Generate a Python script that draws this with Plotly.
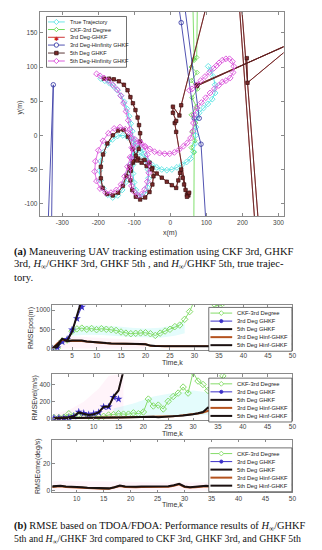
import plotly.graph_objects as go

W, H = 322, 550

# ---------------- (a) trajectory data: x(m), y(m) ----------------
true_x = [-193,-182,-170,-158,-147,-137,-128,-121,-115,-110,-106,-103,
          -102,-103,-104,-104,-101,-96,-88,-79,-70,-64,-61,-62,-66,-73,-82,-93,
          -105,-118,-132,-147,-161,-175,-186,-194,-197,-194,-186,-174,-160,-146,-134,-125,-118,-112,-106,-98,
          -88,-76,-64,-51,-38,-24,-10,4,18,32,45,56,64,68,70,71,72,80,92,104,116,124,124,119,112,105]
true_y = [83,80,77,72,66,58,49,39,28,17,6,-5,
          -17,-30,-43,-56,-69,-80,-88,-90,-86,-76,-63,-50,-38,-27,-19,-13,
          -8,-3,0,-1,-6,-14,-25,-38,-52,-66,-78,-87,-91,-88,-80,-69,-56,-43,-32,-24,
          -25,-31,-37,-43,-47,-50,-51,-50,-47,-43,-39,-34,-24,-12,0,12,24,33,40,46,53,62,74,86,95,101]

ckf_x = [75,73,66,62,None,66,58,74,58,76,60,72,58,70,60,68,58,66,65]
ckf_y = [200,114,110,200,None,112,100,92,80,68,55,42,30,18,5,-8,-18,-25,-140]

hinf3_x = [-340,-325,-330,None,20,30,66,85,100,None,37,80]
hinf3_y = [-140,74,-140,None,200,165,25,-13,-140,None,200,25]

g5_x = [-184,-170,-157,-143,-129,-119,-111,-104,-97,-91,-87,-84,-84,
        -88,-96,-104,-110,-111,-106,-96,-84,-70,-58,-50,-47,-50,-58,-72,-90,
        -105,-118,-130,-145,-160,-175,-187,-193,-193,-188,-176,-160,-145,-132,-122,-114,-104,-92,
        -80,-66,-52,-38,-24,-10,4,16,22,27,30,34,38,42,46,50,52,46,
        16,12,16,7,7,25,30,
        105,190,236,246,196,400,360,75,73,360,214,212]
g5_y = [83,83,82,79,74,66,56,47,37,26,15,3,-9,
        -20,-30,-40,-52,-66,-80,-90,-94,-91,-83,-72,-60,-48,-40,-36,-34,
        -20,-2,8,7,0,-12,-28,-46,-63,-77,-86,-88,-84,-74,-60,-46,-38,-37,
        -40,-45,-50,-56,-62,-68,-73,-77,-66,-55,-50,-62,-72,-80,-87,-88,-84,-90,
        5,18,21,33,42,29,44,
        200,200,-140,-140,200,200,140,74,72,141,77,113]
g3_x = g5_x
g3_y = g5_y

h5_x = [-205,-195,-184,-172,-160,-148,-138,-130,-123,-117,-112,-108,
        -107,-109,-112,-112,-108,-100,-90,-80,-71,-64,-60,-60,-64,-72,-84,-98,
        -112,-125,-140,-156,-172,-187,-200,-208,-210,-205,-195,-180,-165,-150,-137,-127,-119,-112,-104,-95,
        -82,-70,-57,-44,-30,-16,-2,11,24,36,47,56,62,64,66,74,86,98,110,122,134,144,
        154,166,174,176,172,164,154,144,135,128,120,108,96,84,72,60,53]
h5_y = [90,87,84,80,74,67,58,47,35,22,9,-4,
        -18,-33,-48,-62,-74,-83,-88,-86,-79,-68,-55,-41,-28,-17,-10,-6,
        2,9,12,10,3,-8,-22,-38,-53,-67,-78,-84,-84,-80,-72,-60,-46,-32,-20,-12,
        -12,-16,-20,-24,-26,-27,-27,-25,-21,-16,-11,-4,6,18,30,40,48,55,62,68,73,78,
        80,84,92,101,108,112,112,110,106,102,98,92,86,80,74,68,66]

traj_xticks = [-300,-200,-100,0,100,200,300]
traj_yticks = [-100,-50,0,50,100,150]

# ---------------- (b) RMSE data ----------------
k_pos = list(range(1, 51))
ckf_pos = [0,10,200,220,450,510,530,500,520,490,515,500,490,470,430,400,385,395,405,410,
           385,340,400,455,500,570,610,760,960,1250,1400,1350,1250,1160,1100,1200,1300,1350,1400,1450,
           1500,1500,1550,1550,1600,1600,1650,1650,1700,1700]
g3_pos_k = [1,2,3,4,5,6,7,8]
g3_pos = [0,20,170,240,490,780,1080,1400]
g5_pos_k = [1,2,3,4,5,6,7,8]
g5_pos = [0,40,250,200,430,850,1250,1700]
h3_pos = [0,130,230,190,200,200,195,180,165,155,145,135,128,122,118,116,115,114,112,108,
          72,62,60,58,57,56,56,56,57,58,60,62,66,72,80,90,105,120,140,160,
          180,200,220,240,260,280,300,315,325,340]
h5_pos = [0,100,250,190,210,215,205,185,170,160,150,140,132,126,121,118,117,116,115,112,
          75,62,60,58,57,56,56,55,55,55,56,57,58,60,62,65,68,72,75,78,
          80,82,85,88,90,93,96,100,105,110]
bandc_pos_k = [5,8,11,14,17,20,23,26,28]
bandc_pos_lo = [330,360,350,320,300,290,280,330,400]
bandc_pos_hi = [560,600,600,580,540,520,540,620,720]
bandp_pos_k = [1,3,5,7,10,15,20]
bandp_pos_lo = [0,0,0,0,0,0,0]
bandp_pos_hi = [60,300,320,300,280,250,200]

k_vel = list(range(2, 51))
ckf_vel = [15,15,20,60,35,55,40,30,35,25,30,45,50,60,55,55,70,60,80,230,
           150,160,115,205,260,300,370,300,540,440,400,330,300,280,500,600,620,640,660,680,
           700,720,740,760,780,800,820,840,860]
g3_vel_k = list(range(2, 16))
g3_vel = [10,10,10,15,30,80,65,50,60,75,140,140,250,230]
g5_vel_k = list(range(2, 17))
g5_vel = [10,10,12,18,30,75,60,45,55,75,140,140,260,330,560]
h3_vel = [8,8,8,9,10,12,12,12,13,14,15,15,16,17,18,19,20,22,25,28,
          25,22,24,26,30,35,40,48,55,62,75,95,115,130,140,150,160,175,190,205,
          220,240,255,270,285,270,250,230,205]
h5_vel = [8,8,8,9,10,11,12,12,13,14,15,15,16,17,18,19,20,22,25,30,
          25,20,22,25,30,35,40,45,55,65,80,130,115,100,95,90,85,80,75,70,
          65,60,58,55,55,52,55,70,100]
bandc_vel_k = [14,18,22,26,30,34]
bandc_vel_lo = [10,10,20,30,40,50]
bandc_vel_hi = [120,180,260,300,330,300]
bandp_vel_k = [2,5,8,11,13,15,16]
bandp_vel_lo = [0,0,0,0,0,0,0]
bandp_vel_hi = [60,100,200,350,500,520,520]

k_ome = list(range(5, 51))
h5_ome = [3,3.2,3.5,3,3,2.5,2.5,2,1.8,1.5,
          1.5,1.6,2.5,3.8,3,2.8,2.8,3,3,3.2,
          3,2.8,3.2,4,5,3,2.5,2.8,3.2,3.5,
          3.2,3.5,3.5,3.2,3,3,3.2,3.5,3.5,3.2,
          3,3,3.2,3.5,4,4.5]
h3_ome = [2.6,2.8,3.1,2.7,2.6,2.2,2.2,1.8,1.6,1.3,
          1.3,1.4,2.2,3.4,2.7,2.5,2.5,2.7,2.7,2.9,
          2.7,2.5,2.9,3.6,4.6,2.7,2.2,2.5,2.9,3.2,
          2.9,3.2,3.2,2.9,2.7,2.7,2.9,3.2,3.2,2.9,
          2.7,2.7,2.9,3.2,3.7,4.2]
bandp_ome_k = [5,15,25,35,45,50]
bandp_ome_lo = [0,0,0,0,0,0]
bandp_ome_hi = [7,7,6,6,7,7]

# ---------------- colours ----------------
C_TRUE = '#5fe3e3'
C_CKF = '#62d84a'
C_RED = '#c82020'
C_BLUE = '#3d3fa8'
C_BROWN = '#4a2222'
C_MAG = '#d94fd9'
C_CKF2 = '#86dc6a'
C_BLUE2 = '#3b2fc8'
C_ORANGE = '#b4521e'
C_BLACK = '#1a1010'

fig = go.Figure()

def sc(x, y, ax, **kw):
    fig.add_trace(go.Scatter(x=x, y=y, xaxis='x' + ax, yaxis='y' + ax,
                             showlegend=False, hoverinfo='skip', **kw))

# (a) trajectories
sc(true_x, true_y, '', mode='lines+markers', line=dict(color=C_TRUE, width=1),
   marker=dict(symbol='diamond-open', size=4.5, color=C_TRUE, line=dict(width=0.9)))
sc(ckf_x, ckf_y, '', mode='lines+markers', line=dict(color=C_CKF, width=0.8),
   marker=dict(symbol='diamond-open', size=3.5, color=C_CKF, line=dict(width=0.8)))
sc(g3_x, g3_y, '', mode='lines+markers', line=dict(color=C_RED, width=0.8),
   marker=dict(symbol='star', size=3.5, color=C_RED))
sc(hinf3_x, hinf3_y, '', mode='lines+markers', line=dict(color=C_BLUE, width=0.9),
   marker=dict(symbol='circle-open', size=4.5, color=C_BLUE, line=dict(width=0.9)))
sc(g5_x, g5_y, '', mode='lines+markers', line=dict(color=C_BROWN, width=0.8),
   marker=dict(symbol='square', size=3.5, color='#7a2a2a', line=dict(color='#2a0c0c', width=0.6)))
sc(h5_x, h5_y, '', mode='lines+markers', line=dict(color=C_MAG, width=0.8),
   marker=dict(symbol='diamond-open', size=4.5, color=C_MAG, line=dict(width=0.9)))

# (b) bands + lines
def band(k, lo, hi, ax, color):
    sc(k, lo, ax, mode='lines', line=dict(width=0, color=color))
    sc(k, hi, ax, mode='lines', line=dict(width=0, color=color), fill='tonexty', fillcolor=color)

PINK = 'rgba(255,120,190,0.08)'
CYAN = 'rgba(120,240,240,0.2)'

band(bandp_pos_k, bandp_pos_lo, bandp_pos_hi, '2', PINK)
band(bandc_pos_k, bandc_pos_lo, bandc_pos_hi, '2', CYAN)
sc(k_pos, ckf_pos, '2', mode='lines+markers', line=dict(color=C_CKF2, width=1),
   marker=dict(symbol='diamond-open', size=5, color=C_CKF2, line=dict(width=1)))
sc(g3_pos_k, g3_pos, '2', mode='lines+markers', line=dict(color=C_BLUE2, width=1),
   marker=dict(symbol='star', size=6, color=C_BLUE2))
sc(g5_pos_k, g5_pos, '2', mode='lines', line=dict(color=C_BLACK, width=2))
sc(k_pos, h3_pos, '2', mode='lines', line=dict(color=C_ORANGE, width=2))
sc(k_pos, h5_pos, '2', mode='lines', line=dict(color=C_BLACK, width=2))

band(bandp_vel_k, bandp_vel_lo, bandp_vel_hi, '3', PINK)
band(bandc_vel_k, bandc_vel_lo, bandc_vel_hi, '3', CYAN)
sc(k_vel, ckf_vel, '3', mode='lines+markers', line=dict(color=C_CKF2, width=1),
   marker=dict(symbol='diamond-open', size=5, color=C_CKF2, line=dict(width=1)))
sc(g3_vel_k, g3_vel, '3', mode='lines+markers', line=dict(color=C_BLUE2, width=1),
   marker=dict(symbol='star', size=6, color=C_BLUE2))
sc(g5_vel_k, g5_vel, '3', mode='lines', line=dict(color=C_BLACK, width=2))
sc(k_vel, h3_vel, '3', mode='lines', line=dict(color=C_ORANGE, width=2))
sc(k_vel, h5_vel, '3', mode='lines', line=dict(color=C_BLACK, width=2))

band(bandp_ome_k, bandp_ome_lo, bandp_ome_hi, '4', PINK)
sc(k_ome, h3_ome, '4', mode='lines', line=dict(color=C_ORANGE, width=2))
sc(k_ome, h5_ome, '4', mode='lines', line=dict(color=C_BLACK, width=2))

# ---------------- layout ----------------
def X(px):
    return px / W

def Y(py):
    return 1 - py / H

TICKF = dict(family='Liberation Sans, Arial', size=6.5, color='#444')
AX = dict(showline=True, linecolor='#8a8a8a', linewidth=0.8, mirror='allticks',
          ticks='inside', ticklen=3, tickcolor='#8a8a8a', tickwidth=0.8,
          showgrid=False, zeroline=False, tickfont=TICKF)

fig.update_layout(
    width=W, height=H, margin=dict(l=0, r=0, t=0, b=0),
    paper_bgcolor='white', plot_bgcolor='white', showlegend=False,
    xaxis=dict(AX, domain=[X(32), X(279)], range=[-363, 314], anchor='y',
               tickvals=traj_xticks, ticktext=[str(v) for v in traj_xticks]),
    yaxis=dict(AX, domain=[Y(209), Y(4)], range=[-118.5, 180.6], anchor='x',
               tickvals=traj_yticks, ticktext=[str(v) for v in traj_yticks]),
    xaxis2=dict(AX, domain=[X(45), X(288)], range=[1, 50], anchor='y2', dtick=5, tick0=0, ticklen=2.5),
    yaxis2=dict(AX, domain=[Y(343), Y(298)], range=[-33, 1135], anchor='x2',
                tickvals=[0, 500, 1000], ticklen=2.5),
    xaxis3=dict(AX, domain=[X(45), X(288)], range=[1.7, 50], anchor='y3', dtick=5, tick0=0, ticklen=2.5),
    yaxis3=dict(AX, domain=[Y(413.5), Y(367.5)], range=[-13, 520], anchor='x3',
                tickvals=[0, 200, 400], ticklen=2.5),
    xaxis4=dict(AX, domain=[X(45), X(288)], range=[5.5, 50], anchor='y4', dtick=5, tick0=0, ticklen=2.5),
    yaxis4=dict(AX, domain=[Y(486), Y(433.5)], range=[-1.3, 38], anchor='x4',
                tickvals=[0, 20], ticklen=2.5),
)

shapes = []
ann = []

def text(px, py, s, size=5.6, color='#222', anchor='left', angle=0, family='Liberation Sans, Arial'):
    ann.append(dict(x=X(px), y=Y(py), xref='paper', yref='paper', text=s, showarrow=False,
                    xanchor=anchor, yanchor='middle', textangle=angle,
                    font=dict(family=family, size=size, color=color)))

def box(x0, y0, x1, y1):
    shapes.append(dict(type='rect', xref='paper', yref='paper', x0=X(x0), x1=X(x1), y0=Y(y1), y1=Y(y0),
                       fillcolor='white', line=dict(color='#333', width=0.7), layer='above'))

def hline(x0, x1, y, color, width):
    shapes.append(dict(type='line', xref='paper', yref='paper', x0=X(x0), x1=X(x1), y0=Y(y), y1=Y(y),
                       line=dict(color=color, width=width), layer='above'))

def diamond(cx, cy, s, color):
    p = 'M {} {} L {} {} L {} {} L {} {} Z'.format(X(cx), Y(cy - s), X(cx + s), Y(cy), X(cx), Y(cy + s), X(cx - s), Y(cy))
    shapes.append(dict(type='path', xref='paper', yref='paper', path=p, fillcolor='white',
                       line=dict(color=color, width=0.9), layer='above'))

def circle(cx, cy, r, color, fill='white'):
    shapes.append(dict(type='circle', xref='paper', yref='paper', x0=X(cx - r), x1=X(cx + r),
                       y0=Y(cy + r), y1=Y(cy - r), fillcolor=fill, line=dict(color=color, width=0.9),
                       layer='above'))

def square(cx, cy, r, color, edge):
    shapes.append(dict(type='rect', xref='paper', yref='paper', x0=X(cx - r), x1=X(cx + r),
                       y0=Y(cy + r), y1=Y(cy - r), fillcolor=color, line=dict(color=edge, width=0.7),
                       layer='above'))

# legend (a)
box(39, 8.5, 120, 59.5)
ly = [14, 21.6, 29.4, 37.2, 45.2, 53.2]
names_a = ['True Trajectory', 'CKF-3rd Degree', '3rd Deg-GHKF', '3rd Deg-Hinfinity GHKF',
           '5th Deg GHKF', '5th Deg-Hinfinity GHKF']
cols_a = [C_TRUE, C_CKF, C_RED, C_BLUE, C_BROWN, C_MAG]
for i, (n, c) in enumerate(zip(names_a, cols_a)):
    hline(40.5, 57.5, ly[i], c, 0.9)
    text(60.5, ly[i], n)
diamond(49, ly[0], 2.6, C_TRUE)
diamond(49, ly[1], 2.2, C_CKF)
text(49, ly[2] + 0.8, '✱', size=6, color=C_RED, anchor='center', family='DejaVu Sans')
circle(49, ly[3], 2.2, C_BLUE)
square(49, ly[4], 1.8, '#7a2a2a', '#2a0c0c')
diamond(49, ly[5], 2.6, C_MAG)

# legends (b)
names_b = ['CKF-3rd Degree', '3rd Deg GHKF', '5th Deg GHKF', '3rd Deg Hinf-GHKF', '5th Deg Hinf-GHKF']
for top in (300.5, 371.5, 441.5):
    box(203.3, top, 287.5, top + 44)
    ys = [top + 5.7 + 8.05 * i for i in range(5)]
    hline(205, 227, ys[0], C_CKF2, 1)
    diamond(216, ys[0], 2.4, C_CKF2)
    hline(205, 227, ys[1], C_BLUE2, 1)
    circle(216, ys[1], 1.6, C_BLUE2, fill=C_BLUE2)
    hline(205, 227, ys[2], C_BLACK, 2)
    hline(205, 227, ys[3], C_ORANGE, 2)
    hline(205, 227, ys[4], C_BLACK, 2)
    for i, n in enumerate(names_b):
        text(229.5, ys[i], n, size=5.8)

# axis titles
AT = 7
text(164, 225.5, 'x(m)', size=AT, color='#333', anchor='center')
text(12, 100, 'y(m)', size=AT, color='#333', anchor='center', angle=-90)
text(166.5, 356, 'Time,k', size=AT, color='#333', anchor='center')
text(166.5, 427, 'Time,k', size=AT, color='#333', anchor='center')
text(166.5, 498.5, 'Time,k', size=AT, color='#333', anchor='center')
text(23.5, 321, 'RMSEpos(m)', size=AT, color='#333', anchor='center', angle=-90)
text(27, 391, 'RMSEvel(m/s)', size=AT, color='#333', anchor='center', angle=-90)
text(31, 460, 'RMSEome(deg/s)', size=AT, color='#333', anchor='center', angle=-90)

# captions
CF = 'Liberation Serif, Times New Roman, serif'
Hinf = '<i>H</i><sub>∞</sub>'
text(4.5, 245, '<b>(a)</b> Maneuvering UAV tracking estimation using CKF 3rd, GHKF', size=10.6, color='#111', family=CF)
text(4.5, 257.7, '3rd, ' + Hinf + '/GHKF 3rd, GHKF 5th , and ' + Hinf + '/GHKF 5th, true trajec-',
     size=10.6, color='#111', family=CF)
text(4.5, 270.5, 'tory.', size=10.6, color='#111', family=CF)
text(4.5, 520.5, '<b>(b)</b> RMSE based on TDOA/FDOA: Performance results of ' + Hinf + '/GHKF',
     size=10.4, color='#111', family=CF)
text(4.5, 533.2, '5th and ' + Hinf + '/GHKF 3rd compared to CKF 3rd, GHKF 3rd, and GHKF 5th',
     size=9.8, color='#111', family=CF)

fig.update_layout(shapes=shapes, annotations=ann)
fig.write_html('out.html')
